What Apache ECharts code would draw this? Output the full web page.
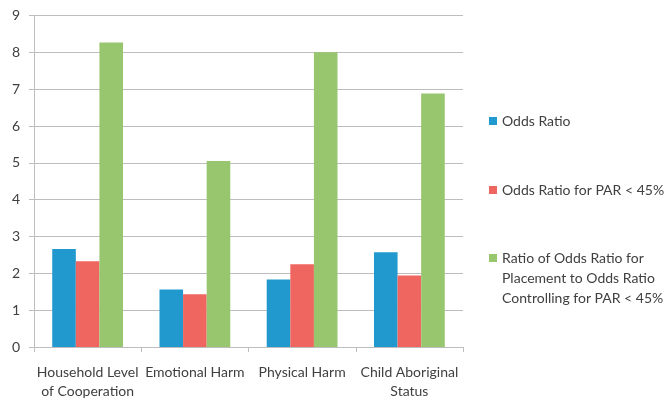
<!DOCTYPE html>
<html>
<head>
<meta charset="utf-8">
<script src="https://cdn.jsdelivr.net/npm/echarts@6/dist/echarts.min.js"></script>
<style>
  html, body { margin: 0; padding: 0; background: #fff; }
  #chart { width: 670px; height: 401px; }
</style>
</head>
<body>
<div id="chart"></div>
<script>
// categories and series values
const categories = ['Household Level\nof Cooperation', 'Emotional Harm', 'Physical Harm', 'Child Aboriginal\nStatus']
const oddsRatio = [2.66, 1.56, 1.83, 2.57]
const oddsRatioPar = [2.33, 1.43, 2.25, 1.94]
const ratioOfRatios = [8.27, 5.05, 8.0, 6.88]
const seriesNames = ['Odds Ratio', 'Odds Ratio for PAR < 45%', 'Ratio of Odds Ratio for\nPlacement to Odds Ratio\nControlling for PAR < 45%']
const colors = ['#2199CE', '#EF6560', '#98C66F']

const font = 'Lato'
const textColor = '#404040'
const lineColor = '#BDBDBD'

const chart = echarts.init(document.getElementById('chart'), null, { renderer: 'canvas' })

// one legend per item so each can sit where the reference has it
function legendAt(name, top, blankLines) {
  return {
    data: [{ name: name }],
    orient: 'vertical',
    left: 489,
    top: top,
    padding: 0,
    itemWidth: 8,
    itemHeight: 8,
    itemGap: 0,
    icon: 'rect',
    selectedMode: false,
    // the icon sits in the middle of the text block; blank lines on top keep it on the first line
    formatter: n => ' \n'.repeat(blankLines) + n,
    textStyle: {
      fontFamily: font,
      fontSize: 14,
      color: textColor,
      lineHeight: 20
    }
  }
}

chart.setOption({
  backgroundColor: '#fff',
  color: colors,
  animation: false,
  grid: {
    left: 34,
    right: 207,
    top: 15.5,
    bottom: 54
  },
  legend: [
    legendAt(seriesNames[0], 111, 0),
    legendAt(seriesNames[1], 180, 0),
    legendAt(seriesNames[2], 208, 2)
  ],
  xAxis: {
    type: 'category',
    data: categories,
    axisLine: { lineStyle: { color: lineColor, width: 1 } },
    axisTick: { show: true, length: 5, lineStyle: { color: lineColor } },
    axisLabel: {
      interval: 0,
      margin: 16,
      fontFamily: font,
      fontSize: 14,
      color: textColor,
      lineHeight: 19
    }
  },
  yAxis: {
    type: 'value',
    min: 0,
    max: 9,
    interval: 1,
    axisLine: { show: true, lineStyle: { color: lineColor, width: 1 } },
    axisTick: { show: true, length: 5, lineStyle: { color: lineColor } },
    splitLine: { lineStyle: { color: lineColor, width: 1 } },
    axisLabel: {
      margin: 14,
      fontFamily: font,
      fontSize: 14,
      color: textColor
    }
  },
  series: [
    { name: seriesNames[0], type: 'bar', data: oddsRatio, barGap: '0%', barCategoryGap: '34%' },
    { name: seriesNames[1], type: 'bar', data: oddsRatioPar, barGap: '0%', barCategoryGap: '34%' },
    { name: seriesNames[2], type: 'bar', data: ratioOfRatios, barGap: '0%', barCategoryGap: '34%' }
  ]
})
</script>
</body>
</html>
